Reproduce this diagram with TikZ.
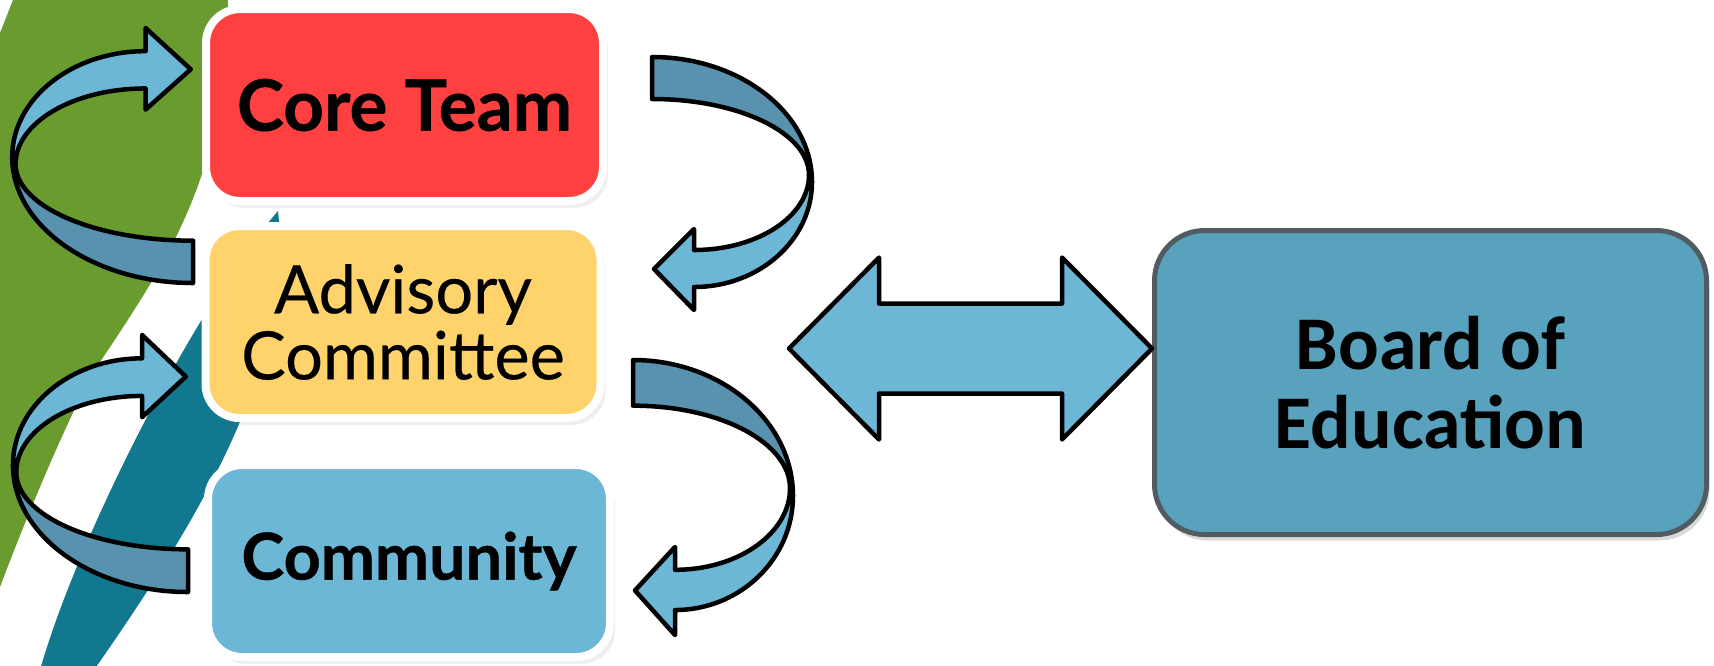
\documentclass[tikz,border=0pt]{standalone}
\usepackage{fontspec}
\setmainfont{Lato}[BoldFeatures={FakeBold=0.6}]
\newfontfamily\midfont{Lato}[FakeBold=0.3]
\newfontfamily\boardfont{Carlito}
\usetikzlibrary{shadows}
\definecolor{leafgreen}{RGB}{106,155,47}
\definecolor{deepteal}{RGB}{17,120,143}
\definecolor{coral}{RGB}{255,64,64}
\definecolor{sand}{RGB}{254,211,107}
\definecolor{sky}{RGB}{108,182,214}
\definecolor{steel}{RGB}{88,146,174}
\definecolor{boardblue}{RGB}{88,162,190}
\definecolor{boardline}{RGB}{80,92,98}
\begin{document}
\begin{tikzpicture}[x=0.1mm,y=-0.1mm,
    tier/.style={rounded corners=3.4mm,draw=white,line width=0.8mm,minimum height=19.2mm,align=center,
      drop shadow={opacity=0.13,shadow xshift=0.5mm,shadow yshift=-0.7mm}},
    back/.style={fill=steel,draw=black,line width=0.45mm,line join=round},
    front/.style={fill=sky,draw=black,line width=0.45mm,line join=round}]
    \def\ribbon#1{\begin{scope}[#1]
        \filldraw[back] (0,0) .. controls (88,0) and (160,56) .. (160,125) -- (157,118)
            .. controls (157,76) and (87,42) .. (0,42) -- cycle;
        \filldraw[front] (160,125) .. controls (160,183) and (107,230) .. (42,230) -- (42,253) -- (2,212)
            -- (42,172) -- (42,193) .. controls (106,193) and (157,159) .. (157,118) -- cycle;
    \end{scope}}
    \useasboundingbox (0,0) rectangle (1714,665);
    \fill[leafgreen] (0,33) -- (13,0) -- (228,0) .. controls (226,170) and (175,250) .. (100,362)
        .. controls (75,400) and (25,520) .. (0,587) -- cycle;
    \fill[deepteal] (278,211) .. controls (200,300) and (80,530) .. (40,670) -- (94,670)
        .. controls (195,525) and (295,365) .. (278,211) -- cycle;
    \node[tier,fill=coral,minimum width=39.7mm,font=\bfseries\fontsize{20.2}{23}\selectfont] (core) at (404.5,105) {Core Team};
    \node[tier,fill=sand,minimum width=39.5mm,font=\midfont\fontsize{19}{18.8}\selectfont] (adv) at (403,322) {Advisory\\Committee};
    \node[tier,fill=sky,minimum width=40.2mm,font=\bfseries\fontsize{18.4}{23}\selectfont] (comm) at (409,561) {Community};
    \node[rounded corners=5mm,draw=boardline,line width=0.5mm,fill=boardblue,minimum width=55.2mm,minimum height=30.4mm,
        align=center,font=\boardfont\bfseries\fontsize{21.6}{22.5}\selectfont,
        drop shadow={opacity=0.3,shadow xshift=0.3mm,shadow yshift=-0.6mm}] (board) at (1430.5,382.5) {Board of\\Education};
    \ribbon{shift={(652,57)}}
    \ribbon{shift={(633,360)},yscale=1.087}
    \ribbon{shift={(193,283)},xscale=-1.13,yscale=-1.008}
    \ribbon{shift={(188,592)},xscale=-1.094,yscale=-1.016}
    \coordinate (tipR) at ([yshift=3.4mm]board.west);
    \filldraw[front] (tipR) -- ++(-90,-91) -- ++(0,46) -- ++(-183,0) -- ++(0,-46) -- ++(-90,91)
        -- ++(90,91) -- ++(0,-46) -- ++(183,0) -- ++(0,46) -- cycle;
\end{tikzpicture}
\end{document}
